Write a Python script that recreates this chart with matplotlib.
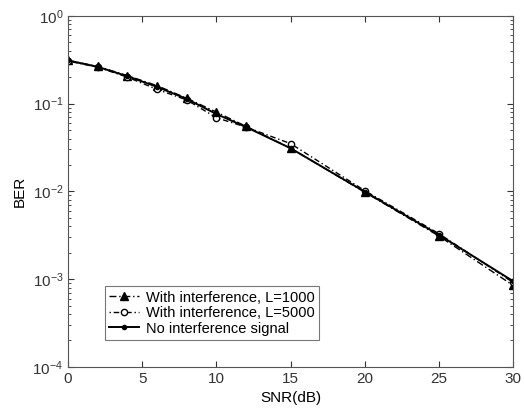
import numpy as np
import matplotlib.pyplot as plt
from matplotlib.ticker import LogLocator, NullFormatter

plt.rcParams['font.family'] = ['Liberation Sans', 'DejaVu Sans']

# data
snr = [0, 2, 4, 6, 8, 10, 12, 15, 20, 25, 30]
ber_l1000 = [0.31, 0.265, 0.208, 0.16, 0.115, 0.08, 0.055, 0.031, 0.0098, 0.0031, 0.00085]
ber_l5000 = [0.305, 0.26, 0.2, 0.145, 0.11, 0.069, 0.054, 0.035, 0.0102, 0.0033, 0.00092]
ber_none = [0.31, 0.262, 0.205, 0.155, 0.113, 0.076, 0.054, 0.031, 0.0099, 0.0032, 0.00095]

fig = plt.figure(figsize=(5.24, 4.16), dpi=100)
ax = fig.add_axes([0.130, 0.118, 0.849, 0.844])

ax.semilogy(snr, ber_l1000, color='k', lw=1.0, ls=(0, (5, 2, 1, 2)), marker='^', ms=5.5,
            label='With interference, L=1000')
ax.semilogy(snr, ber_l5000, color='k', lw=1.0, ls=(0, (1, 2, 4, 2)), marker='o', ms=4.5,
            mfc='white', label='With interference, L=5000')
ax.semilogy(snr, ber_none, color='k', lw=1.4, ls='-', marker='.', ms=6,
            label='No interference signal')

ax.set_xlim(0, 30)
ax.set_ylim(1e-4, 1)
ax.set_xticks([0, 5, 10, 15, 20, 25, 30])
ax.yaxis.set_major_locator(LogLocator(base=10, numticks=10))
ax.yaxis.set_minor_locator(LogLocator(base=10, subs=np.arange(2, 10), numticks=10))
ax.yaxis.set_minor_formatter(NullFormatter())
ax.tick_params(which='both', direction='in', top=True, right=True, labelsize=11, colors='#333333')
ax.tick_params(which='major', length=4)
ax.tick_params(which='minor', length=2)
for s in ax.spines.values():
    s.set_color('#555555')
    s.set_linewidth(0.8)

ax.set_xlabel('SNR(dB)', fontsize=11, labelpad=4)
ax.set_ylabel('BER', fontsize=11, labelpad=4)

leg = ax.legend(loc='lower left', bbox_to_anchor=(0.083, 0.077), fontsize=10.5, frameon=True,
                fancybox=False, edgecolor='#555555', handlelength=2.0, borderpad=0.3,
                labelspacing=0.1, handletextpad=0.5, borderaxespad=0)
leg.get_frame().set_linewidth(0.8)

fig.savefig('out.png', dpi=100)
